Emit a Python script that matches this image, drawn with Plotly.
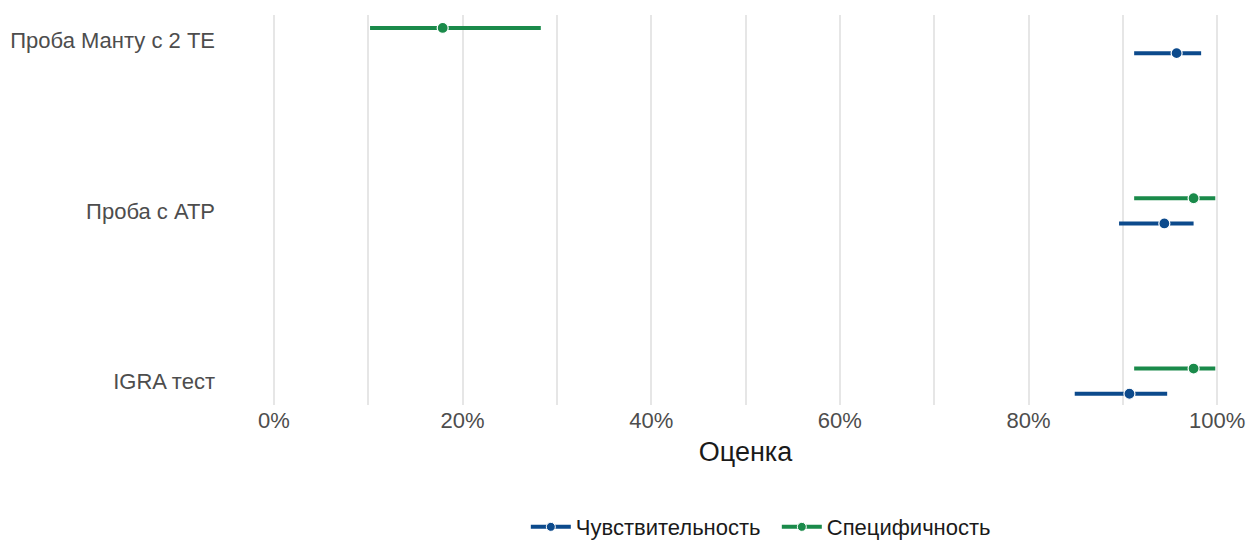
import plotly.graph_objects as go

# Diagnostic tests and their accuracy estimates with 95% CI
tests = ["IGRA тест", "Проба с АТР", "Проба Манту с 2 ТЕ"]

sens_est = [0.907, 0.944, 0.957]
sens_lo = [0.849, 0.896, 0.912]
sens_hi = [0.947, 0.975, 0.983]

spec_est = [0.975, 0.975, 0.179]
spec_lo = [0.912, 0.912, 0.102]
spec_hi = [0.998, 0.998, 0.283]

x_ticks = [0, 0.2, 0.4, 0.6, 0.8, 1.0]
x_ticklabels = ["0%", "20%", "40%", "60%", "80%", "100%"]

series = [
    ("Чувствительность", sens_est, sens_lo, sens_hi, "#0c4a8c", -0.074),
    ("Специфичность", spec_est, spec_lo, spec_hi, "#1a8a4a", 0.074),
]

fig = go.Figure()
for name, est, lo, hi, color, dy in series:
    ys = [i + dy for i in range(len(tests))]
    # interval segments
    lx, ly = [], []
    for a, b, y in zip(lo, hi, ys):
        lx += [a, b, None]
        ly += [y, y, None]
    fig.add_trace(go.Scatter(
        x=lx, y=ly, mode="lines", line=dict(color=color, width=4),
        showlegend=False, hoverinfo="skip", legendgroup=name))
    # point estimates
    fig.add_trace(go.Scatter(
        x=est, y=ys, mode="markers",
        marker=dict(color=color, size=11, line=dict(color="white", width=1.2)),
        showlegend=False, legendgroup=name, name=name))
    # legend entry
    fig.add_trace(go.Scatter(
        x=[None], y=[None], mode="lines+markers", name=name,
        line=dict(color=color, width=4),
        marker=dict(color=color, size=9, line=dict(color="white", width=1)),
        legendgroup=name))

pad = 0.003
fig.update_layout(
    width=1259, height=540,
    margin=dict(l=271, r=39, t=15, b=135, autoexpand=False),
    paper_bgcolor="white", plot_bgcolor="white",
    font=dict(family="Liberation Sans, Arial, sans-serif", size=22, color="#4d4d4d"),
    showlegend=True,
    legend=dict(orientation="h", x=0.533, xanchor="center",
                yref="container", y=0.024, yanchor="middle",
                entrywidth=196, entrywidthmode="pixels",
                font=dict(size=22, color="#1a1a1a"), itemwidth=40, traceorder="normal"),
    xaxis=dict(
        range=[-pad, 1 + pad], tickvals=x_ticks, ticktext=x_ticklabels,
        showgrid=True, gridcolor="#e6e6e6", gridwidth=2,
        minor=dict(dtick=0.1, tick0=0, showgrid=True, gridcolor="#e6e6e6", gridwidth=2),
        zeroline=False, showline=False, ticks="",
        tickfont=dict(size=22, color="#4d4d4d"),
        automargin=False,
        title=dict(text="Оценка", font=dict(size=27, color="#1a1a1a"), standoff=10),
    ),
    yaxis=dict(
        range=[-0.14, 2.15], tickvals=[0, 1, 2], ticktext=tests,
        showgrid=False, zeroline=False, showline=False, ticks="",
        ticklabelstandoff=55, automargin=False,
        tickfont=dict(size=22, color="#4d4d4d"),
    ),
)

fig.write_html("out.html")
